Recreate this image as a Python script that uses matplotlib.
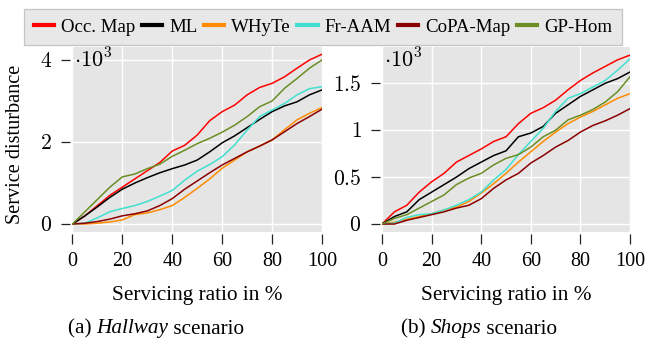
import matplotlib
matplotlib.use("Agg")
import matplotlib.pyplot as plt
from matplotlib.ticker import FixedLocator, FixedFormatter

plt.rcParams["font.family"] = ["Liberation Serif", "DejaVu Serif"]
plt.rcParams["mathtext.fontset"] = "cm"

# ── Data (values in 10^3, sampled every 5 % of servicing ratio) ──────────────
ratio = [0, 5, 10, 15, 20, 25, 30, 35, 40, 45, 50,
         55, 60, 65, 70, 75, 80, 85, 90, 95, 100]

methods = ["Occ. Map", "ML", "WHyTe", "Fr-AAM", "CoPA-Map", "GP-Hom"]
colors  = ["#ff0000", "#000000", "#ff8c00", "#40e0d0", "#8b0000", "#6b8e23"]

hallway_occ   = [0, 0.20, 0.45, 0.70, 0.90, 1.10, 1.30, 1.50, 1.78, 1.92, 2.17,
                 2.52, 2.74, 2.90, 3.15, 3.33, 3.43, 3.59, 3.80, 4.00, 4.14]
hallway_ml    = [0, 0.20, 0.42, 0.65, 0.85, 1.00, 1.13, 1.25, 1.35, 1.44, 1.56,
                 1.76, 1.98, 2.15, 2.35, 2.55, 2.74, 2.88, 2.98, 3.15, 3.27]
hallway_whyte = [0, 0.00, 0.02, 0.05, 0.10, 0.23, 0.27, 0.35, 0.45, 0.65, 0.87,
                 1.10, 1.36, 1.56, 1.76, 1.90, 2.05, 2.30, 2.54, 2.70, 2.84]
hallway_fraam = [0, 0.02, 0.15, 0.30, 0.38, 0.45, 0.55, 0.68, 0.82, 1.07, 1.29,
                 1.45, 1.64, 1.93, 2.29, 2.62, 2.78, 2.94, 3.15, 3.30, 3.35]
hallway_copa  = [0, 0.02, 0.06, 0.12, 0.20, 0.25, 0.32, 0.45, 0.62, 0.85, 1.05,
                 1.25, 1.44, 1.60, 1.76, 1.90, 2.05, 2.25, 2.45, 2.62, 2.80]
hallway_gph   = [0, 0.30, 0.60, 0.90, 1.15, 1.22, 1.35, 1.46, 1.65, 1.80, 1.96,
                 2.09, 2.24, 2.41, 2.62, 2.86, 3.00, 3.31, 3.55, 3.80, 4.00]

shops_occ   = [0, 0.13, 0.20, 0.34, 0.45, 0.54, 0.66, 0.73, 0.80, 0.88, 0.93,
               1.07, 1.18, 1.24, 1.32, 1.43, 1.53, 1.61, 1.68, 1.75, 1.80]
shops_ml    = [0, 0.08, 0.13, 0.26, 0.34, 0.42, 0.50, 0.59, 0.66, 0.73, 0.78,
               0.93, 0.97, 1.04, 1.18, 1.27, 1.36, 1.43, 1.50, 1.55, 1.62]
shops_whyte = [0, 0.02, 0.05, 0.08, 0.11, 0.15, 0.18, 0.24, 0.33, 0.43, 0.54,
               0.66, 0.77, 0.88, 0.98, 1.07, 1.14, 1.20, 1.27, 1.34, 1.39]
shops_fraam = [0, 0.01, 0.07, 0.10, 0.11, 0.15, 0.20, 0.26, 0.34, 0.47, 0.58,
               0.74, 0.88, 1.02, 1.20, 1.34, 1.39, 1.46, 1.53, 1.64, 1.76]
shops_copa  = [0, 0.00, 0.04, 0.07, 0.10, 0.13, 0.17, 0.20, 0.27, 0.38, 0.47,
               0.54, 0.65, 0.73, 0.82, 0.89, 0.98, 1.05, 1.10, 1.16, 1.23]
shops_gph   = [0, 0.06, 0.10, 0.17, 0.24, 0.31, 0.42, 0.49, 0.54, 0.63, 0.70,
               0.74, 0.82, 0.93, 1.00, 1.11, 1.16, 1.22, 1.30, 1.41, 1.57]

hallway = [hallway_occ, hallway_ml, hallway_whyte, hallway_fraam, hallway_copa, hallway_gph]
shops   = [shops_occ, shops_ml, shops_whyte, shops_fraam, shops_copa, shops_gph]

x_ticks        = [0, 20, 40, 60, 80, 100]
hallway_yticks = [0, 2, 4]
shops_yticks   = [0, 0.5, 1, 1.5]

# ── Plot ──────────────────────────────────────────────────────────────────────
W, H = 649, 345
fig = plt.figure(figsize=(W / 100, H / 100), dpi=100)
ax1 = fig.add_axes([0.1117, 0.3275, 0.3844, 0.5363])
ax2 = fig.add_axes([0.5886, 0.3275, 0.3821, 0.5363])

panels = [
    (ax1, hallway, hallway_yticks, (-0.195, 4.317), ["$0$", "$2$", "$4$"]),
    (ax2, shops, shops_yticks, (-0.085, 1.887), ["$0$", "$0.5$", "$1$", "$1.5$"]),
]

for ax, series, yt, ylim, ylabels in panels:
    ax.set_facecolor("#e5e5e5")
    for vals, c in zip(series, colors):
        ax.plot(ratio, vals, color=c, linewidth=1.1, zorder=3)
    ax.set_xlim(0, 100)
    ax.set_ylim(*ylim)
    ax.xaxis.set_major_locator(FixedLocator(x_ticks))
    ax.yaxis.set_major_locator(FixedLocator(yt))
    ax.yaxis.set_major_formatter(FixedFormatter(ylabels))
    ax.grid(True, color="white", linewidth=1.0, zorder=1)
    ax.set_axisbelow(True)
    for s in ["top", "right", "left", "bottom"]:
        ax.spines[s].set_visible(False)
    ax.spines["left"].set_position(("outward", 1.8))
    ax.spines["bottom"].set_position(("outward", 1.2))
    ax.tick_params(axis="x", direction="out", length=7, width=0.9,
                   pad=6, labelsize=14.5, color="#222222")
    ax.tick_params(axis="y", direction="out", length=6.5, width=0.9,
                   pad=6.5, labelsize=15.5, color="#222222")
    ax.set_xlabel("Servicing ratio in %", fontsize=15.3, labelpad=11)
    ax.text(0.008, 0.99, r"$\cdot 10^3$", transform=ax.transAxes,
            fontsize=16, ha="left", va="top")

ax1.set_ylabel("Service disturbance", fontsize=14.6)
ax1.yaxis.set_label_coords(-0.19, 0.476)

# ── Captions with italic scenario names ───────────────────────────────────────
def caption(xc, yc, parts):
    texts = [fig.text(0, 0, s, fontsize=15.3, style=st, va="center")
             for s, st in parts]
    fig.canvas.draw()
    r = fig.canvas.get_renderer()
    widths = [t.get_window_extent(r).width for t in texts]
    x = xc - sum(widths) / 2
    for t, w in zip(texts, widths):
        t.set_position((x / W, 1 - yc / H))
        x += w

caption(156, 329, [("(a) ", "normal"), ("Hallway", "italic"), (" scenario", "normal")])
caption(479, 329, [("(b) ", "normal"), ("Shops", "italic"), (" scenario", "normal")])

# ── Legend ────────────────────────────────────────────────────────────────────
handles = [plt.Line2D([], [], color=c, linewidth=3) for c in colors]
leg = fig.legend(handles, methods, loc="center", bbox_to_anchor=(323 / W, 1 - 27 / H),
                 ncol=6, fontsize=13.6, frameon=True, fancybox=False,
                 handlelength=1.07, handletextpad=0.37, columnspacing=0.35,
                 borderpad=0.5, borderaxespad=0)
leg.get_frame().set_facecolor("#e8e8e8")
leg.get_frame().set_edgecolor("#c4c4c4")
leg.get_frame().set_linewidth(0.9)
leg.get_frame().set_alpha(1)

fig.savefig("out.png", dpi=100)
